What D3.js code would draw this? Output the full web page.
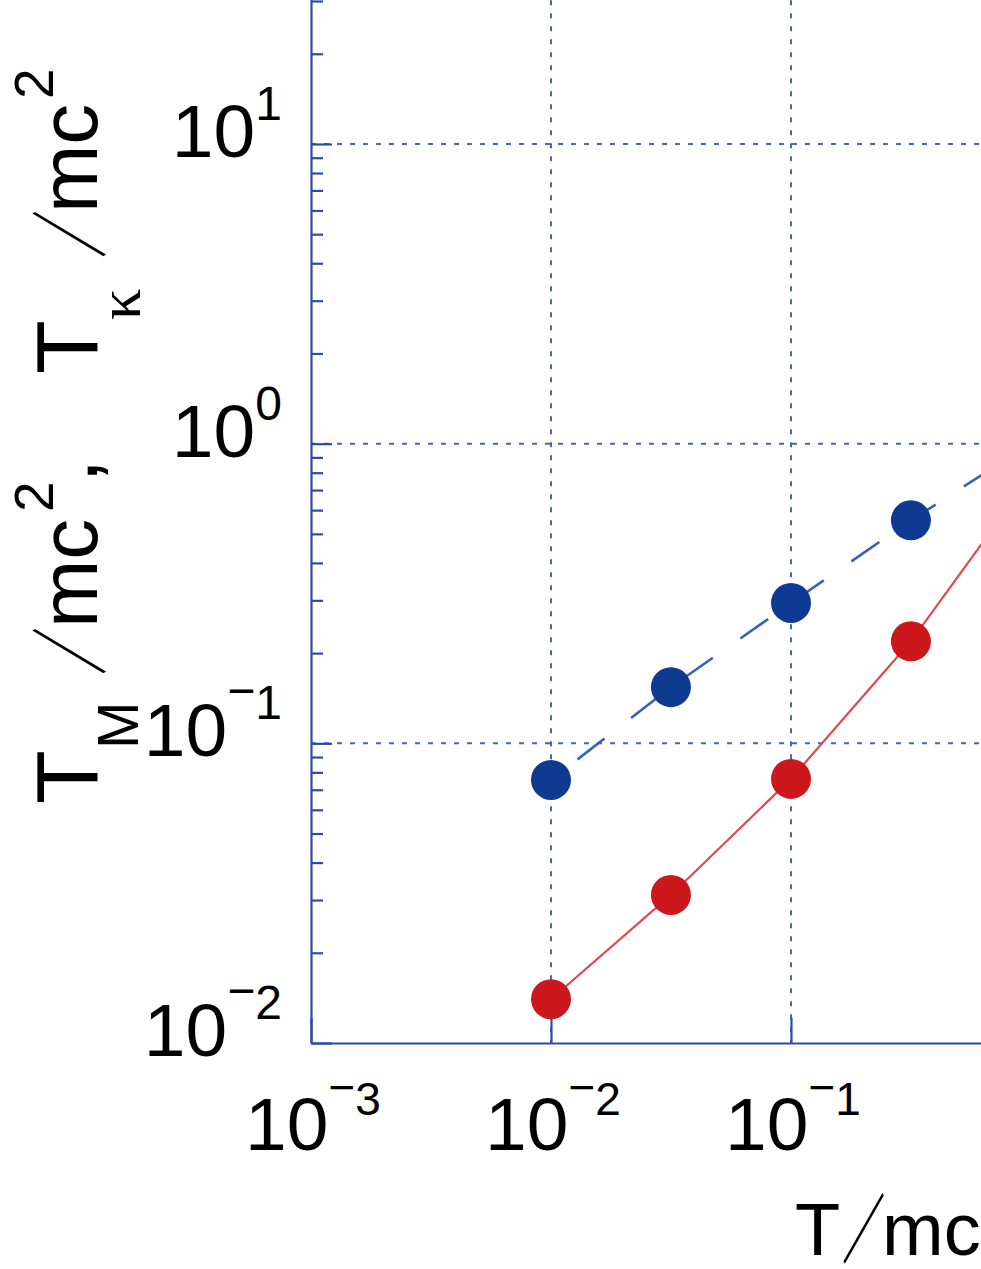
<!DOCTYPE html>
<html><head><meta charset="utf-8">
<script src="https://cdn.jsdelivr.net/npm/d3@7"></script>
<style>html,body{margin:0;padding:0;background:#fff;overflow:hidden}</style>
</head><body>
<svg id="chart" width="981" height="1269"></svg>
<script>
// ---- data ----
const tValues      = [0.01, 0.0316, 0.1, 0.316, 1];          // T/mc^2
const tMValues     = [0.0140, 0.0312, 0.0761, 0.219, 0.78];  // T_M/mc^2 (red, solid)
const tKappaValues = [0.0755, 0.154, 0.294, 0.555, 1.0];     // T_kappa/mc^2 (blue, dashed)
const xTickExponents = [-3, -2, -1];
const yTickExponents = [-2, -1, 0, 1];
const xDomain = [1e-3, 1e1];
const yDomain = [1e-2, 1e2];

// ---- layout ----
const FONT = "'Liberation Sans', Arial, Helvetica, sans-serif";
const CJK = "'Noto Sans CJK JP', 'Noto Sans CJK SC', sans-serif";
const left = 311, bottom = 1043, decX = 240, decY = 299.67;
const gridColor = '#4a64b4', axisColor = '#2c4ba6';

const svg = d3.select('#chart');
const x = d3.scaleLog().domain(xDomain).range([left, left + decX * Math.log10(xDomain[1] / xDomain[0])]);
const y = d3.scaleLog().domain(yDomain).range([bottom, bottom - decY * Math.log10(yDomain[1] / yDomain[0])]);

const decadeTicks = (dom) => {
  const out = [];
  for (let e = Math.round(Math.log10(dom[0])); e <= Math.round(Math.log10(dom[1])); e++) out.push(Math.pow(10, e));
  return out;
};
const xDecades = decadeTicks(xDomain);
const yDecades = decadeTicks(yDomain);
const yMinor = [];
yDecades.slice(0, -1).forEach(d => { for (let k = 2; k <= 9; k++) yMinor.push(d * k); });

// ---- grid ----
const grid = svg.append('g').attr('stroke', gridColor).attr('stroke-width', 2)
  .attr('stroke-dasharray', '5 8').attr('fill', 'none');
grid.selectAll('line.vx').data(xDecades.filter(d => d > xDomain[0])).join('line')
  .attr('x1', d => x(d)).attr('x2', d => x(d))
  .attr('y1', y(yDomain[1])).attr('y2', bottom);
grid.selectAll('line.hy').data(yDecades.filter(d => d > yDomain[0])).join('line')
  .attr('x1', left).attr('x2', x(xDomain[1]))
  .attr('y1', d => y(d)).attr('y2', d => y(d));

// ---- axes ----
function styleAxis(g, w) {
  g.selectAll('path.domain').attr('stroke', axisColor).attr('stroke-width', w);
  g.selectAll('.tick line').attr('stroke', axisColor).attr('stroke-width', w);
  g.selectAll('.tick text').remove();
}
svg.append('g').attr('transform', `translate(${left},0)`)
  .call(d3.axisRight(y).tickValues(yMinor).tickSize(12).tickSizeOuter(0).tickFormat(''))
  .call(g => styleAxis(g, 2.2));
svg.append('g').attr('transform', `translate(${left},0)`)
  .call(d3.axisRight(y).tickValues(yDecades).tickSize(21).tickSizeOuter(0).tickFormat(''))
  .call(g => { styleAxis(g, 2.2); g.select('path.domain').remove(); });
svg.append('g').attr('transform', `translate(0,${bottom})`)
  .call(d3.axisTop(x).tickValues(xDecades).tickSize(25).tickSizeOuter(0).tickFormat(''))
  .call(g => styleAxis(g, 2.2));

// ---- series ----
const line = d3.line().x(d => x(d[0])).y(d => y(d[1]));
const redPts = tValues.map((t, i) => [t, tMValues[i]]);
const bluePts = tValues.map((t, i) => [t, tKappaValues[i]]);

svg.append('path').datum(redPts).attr('d', line)
  .attr('fill', 'none').attr('stroke', '#e04a4e').attr('stroke-width', 2.2);
svg.append('path').datum(bluePts).attr('d', line)
  .attr('fill', 'none').attr('stroke', '#3a60b5').attr('stroke-width', 2.6)
  .attr('stroke-dasharray', '34 33.6').attr('stroke-dashoffset', 34);

svg.selectAll('circle.r').data(redPts).join('circle')
  .attr('cx', d => x(d[0])).attr('cy', d => y(d[1])).attr('r', 20).attr('fill', '#cc171d');
svg.selectAll('circle.b').data(bluePts).join('circle')
  .attr('cx', d => x(d[0])).attr('cy', d => y(d[1])).attr('r', 20).attr('fill', '#0f3a92');

// ---- tick labels ----
function powLabel(text, e, mainSize, supSize, rise) {
  text.append('tspan').attr('font-size', mainSize).text('10');
  if (e < 0) {
    text.append('tspan').attr('font-size', supSize).attr('dy', -rise - 12).text('\u2212');
    text.append('tspan').attr('font-size', supSize).attr('dy', 12).text(String(-e));
  } else {
    text.append('tspan').attr('font-size', supSize).attr('dy', -rise).text(String(e));
  }
}
svg.selectAll('text.xt').data(xTickExponents).join('text')
  .attr('x', e => x(Math.pow(10, e)) + 2).attr('y', 1150)
  .attr('text-anchor', 'middle').attr('font-family', FONT).attr('fill', '#000')
  .each(function (e) { powLabel(d3.select(this), e, 75, 46, 35); });
svg.selectAll('text.yt').data(yTickExponents).join('text')
  .attr('x', 282).attr('y', e => y(Math.pow(10, e)) + 13)
  .attr('text-anchor', 'end').attr('font-family', FONT).attr('fill', '#000')
  .each(function (e) { powLabel(d3.select(this), e, 75, 48, 37); });

// narrow slash glyph helper
function slash(parent, cx, cy, size, sx) {
  parent.append('g').attr('transform', `translate(${cx},${cy}) scale(${sx},1)`)
    .append('text').attr('x', 0).attr('y', 0).attr('text-anchor', 'middle')
    .attr('font-family', CJK).attr('font-weight', 'bold').attr('font-size', size).text('\uFF0F');
}

// ---- x title: T/mc (cropped at right edge like the reference) ----
const xt = svg.append('g').attr('fill', '#000');
xt.append('text').attr('x', 795).attr('y', 1255).attr('font-family', FONT).attr('font-size', 74).text('T');
slash(xt, 863.5, 1257, 75, 0.57);
xt.append('text').attr('x', 882).attr('y', 1255).attr('font-family', FONT).attr('font-size', 74).text('mc');

// ---- y title: T_M /mc^2,  T_kappa /mc^2 ----
const yt = svg.append('g').attr('transform', 'translate(97,0) rotate(-90)').attr('fill', '#000');
function yPiece(txt, tx, ty, size, fam) {
  yt.append('text').attr('x', tx).attr('y', ty).attr('font-size', size)
    .attr('font-family', fam || FONT).text(txt);
}
yPiece('T', -804, 0, 88);
yPiece('M', -749, 41, 57);
slash(yt, -651, 2, 78, 0.6);
yPiece('mc', -628, 0, 82);
yPiece('2', -512, -44, 55);
yPiece(',', -483, 0, 88);
yPiece('T', -374, 0, 88);
yPiece('\u03BA', -320, 43, 62, "'Liberation Serif', 'DejaVu Serif', serif");
slash(yt, -234, 2, 78, 0.6);
yPiece('mc', -213, 0, 82);
yPiece('2', -99, -44, 55);
</script>
</body></html>
